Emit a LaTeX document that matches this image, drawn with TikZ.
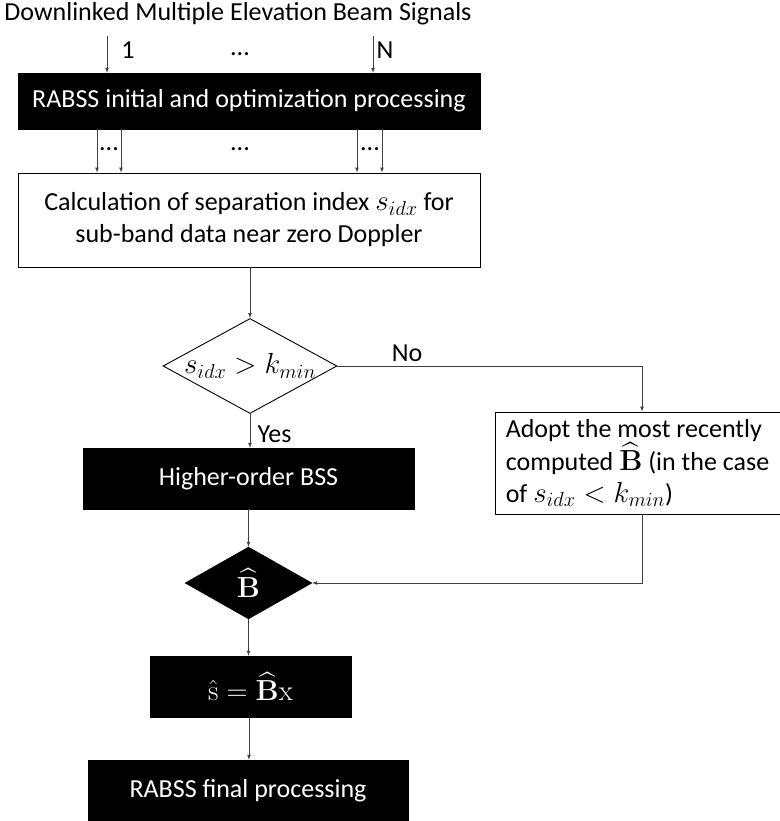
\documentclass[tikz,border=0pt]{standalone}
\usepackage{fix-cm}
\usepackage{amsmath,amssymb}
\usepackage[no-math]{fontspec}
\setmainfont{Carlito}
\usepackage{tikz}
\usetikzlibrary{arrows,positioning,shapes.geometric}
\definecolor{lineGray}{HTML}{404040}
\newcommand{\mth}[1]{{\fontsize{29}{32}\selectfont$#1$}}

\tikzset{
  darkbox/.style={draw=black,fill=black,text=white,rectangle,inner sep=0pt},
  litebox/.style={draw=black,fill=white,rectangle,inner sep=0pt,line width=0.9pt},
  test/.style={draw=black,diamond,inner sep=0pt,line width=0.9pt},
  flow/.style={draw=lineGray,line width=0.7pt,-latex},
  plain/.style={draw=lineGray,line width=0.7pt}
}

\begin{document}
\begin{tikzpicture}[x=1pt,y=-1pt,font=\fontsize{26}{32}\selectfont]
  \useasboundingbox (0,0) rectangle (779,821);

  \node (title) at (238,14) {Downlinked Multiple Elevation Beam Signals};
  \coordinate (in1) at (107,36);
  \coordinate (inN) at (373,36);
  \node (lab1) at (128,50) {1};
  \node (labN) at (385,50) {N};
  \node[anchor=base] (dotsIn) at (240,56) {...};

  \node[darkbox,minimum width=462,minimum height=56] (rabss) at (249,101)
    {RABSS initial and optimization processing};
  \node[litebox,minimum width=462,minimum height=94,align=center] (calc) at (249,220)
    {Calculation of separation index \mth{s_{idx}} for\\sub-band data near zero Doppler};

  \draw[flow] (in1) -- (rabss.north -| in1);
  \draw[flow] (inN) -- (rabss.north -| inN);
  \foreach \xx in {97,121,357,382}
    \draw[flow] (rabss.south -| \xx,0) -- (calc.north -| \xx,0);
  \node[anchor=base] (dotsA) at (109,151) {...};
  \node[anchor=base] (dotsB) at (240,151) {...};
  \node[anchor=base] (dotsC) at (370,151) {...};

  % decision, label kept apart so the diamond keeps its size
  \node[test,minimum width=174,minimum height=95] (dec) at (250,366) {};
  \node (decTxt) at (dec.center) {\mth{s_{idx}>k_{min}}};
  \node[litebox,minimum width=285,minimum height=102,align=left] (adopt) at (637.5,463)
    {Adopt the most recently\\computed \mth{\widehat{\mathbf{B}}} (in the case\\of \mth{s_{idx}<k_{min}})};
  \node[darkbox,minimum width=331,minimum height=61] (hos) at (248.5,478.5)
    {Higher-order BSS};
  \node[darkbox,diamond,minimum width=127,minimum height=72] (bhat) at (248.5,583) {};
  \node[text=white] (bhatTxt) at (bhat.center) {\mth{\widehat{\mathbf{B}}}};
  \node[darkbox,minimum width=201,minimum height=61] (est) at (250.5,686.5)
    {\mth{\hat{\mathrm{s}}=\widehat{\mathbf{B}}\mathrm{x}}};
  \node[darkbox,minimum width=320,minimum height=62] (final) at (248,791)
    {RABSS final processing};

  \draw[flow] (calc.south -| dec.north) -- (dec.north);
  \draw[flow] (dec.east) -| (adopt.north -| 642,0);
  \node (no) at (407,353) {No};
  \draw[flow] (dec.south) -- (hos.north -| dec.south);
  \node[anchor=west] (yes) at (254,434) {Yes};
  \draw[flow] (hos.south -| bhat.north) -- (bhat.north);
  \draw[flow] (adopt.south -| 642,0) |- (bhat.east);
  \draw[flow] (bhat.south) -- (est.north -| bhat.south);
  \draw[flow] (est.south -| 249,0) -- (final.north -| 249,0);
\end{tikzpicture}
\end{document}
